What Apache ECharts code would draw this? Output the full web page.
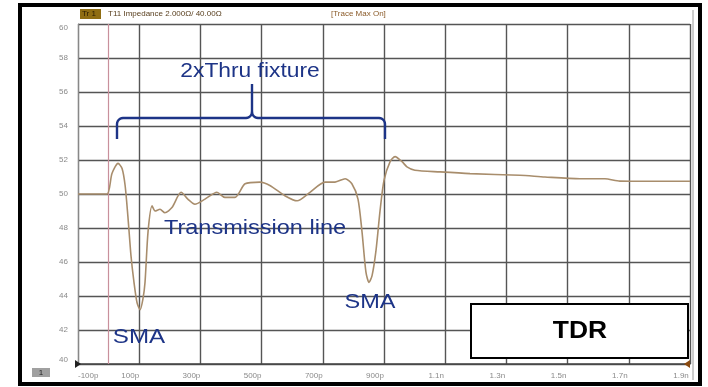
<!DOCTYPE html>
<html>
<head>
<meta charset="utf-8">
<script src="https://cdn.jsdelivr.net/npm/echarts@6/dist/echarts.min.js"></script>
<style>
  html, body { margin: 0; padding: 0; background: #ffffff; }
  #chart { width: 708px; height: 387px; }
</style>
</head>
<body>
<div id="chart"></div>
<script>
// TDR trace: impedance (ohm) versus time (ps)
const timePs = [-100, -50, -5, 11, 31, 44, 54, 63, 73, 83, 93, 103, 112, 119, 129, 142, 152, 168, 184, 207,
  237, 259, 282, 315, 354, 380, 413, 446, 495, 527, 576, 616, 658, 707, 740, 773, 795, 815, 828, 841,
  851, 861, 874, 887, 900, 920, 936, 959, 975, 1001, 1083, 1181, 1344, 1426, 1540, 1622, 1671, 1769, 1900];
const impedance = [50.0, 50.0, 50.0, 51.2, 51.8, 51.5, 50.5, 48.7, 46.4, 44.8, 43.6, 43.2, 43.8, 44.8, 47.8,
  49.3, 49.0, 49.1, 48.9, 49.2, 50.1, 49.7, 49.4, 49.7, 50.1, 49.8, 49.8, 50.6, 50.7, 50.5,
  49.9, 49.6, 50.1, 50.7, 50.7, 50.9, 50.6, 49.7, 47.8, 45.4, 44.8, 45.2, 46.7, 49.0, 50.8,
  51.9, 52.2, 51.9, 51.6, 51.4, 51.3, 51.2, 51.1, 51.0, 50.9, 50.9, 50.76, 50.75, 50.75];

// Display window: starts at -100 ps, 200 ps per division, 10 divisions
const startPs = -100;
const divPs = 200;
const spanPs = 2000;
// Impedance scale: 40 ohm reference, 2 ohm per division
const yMin = 40, yMax = 60, yStep = 2;
const markerPs = 0;

const headerTrace = 'Tr 1';
const headerText = 'T11 Impedance 2.000\u03A9/ 40.00\u03A9';
const headerState = '[Trace Max On]';

function fmtTime(ps) {
  if (Math.abs(ps) < 1000) return ps + 'p';
  return (ps / 1000).toFixed(1) + 'n';
}

// axis runs from 0..span; offset back to real time for labels
const seriesData = timePs.map((t, i) => [t - startPs, impedance[i]]);

// quarter-circle corner points for the bracket outline
function corner(cx, cy, r, a0, a1) {
  const pts = [];
  for (let k = 0; k <= 6; k++) {
    const a = a0 + (a1 - a0) * k / 6;
    pts.push([cx + r * Math.cos(a), cy + r * Math.sin(a)]);
  }
  return pts;
}
const R = 6, P = Math.PI;
const bracketLeft = [[117, 139]].concat(corner(123, 124, R, P, 1.5 * P), corner(246, 112, R, 0.5 * P, 0));
const bracketRight = corner(258, 112, R, P, 0.5 * P).concat(corner(379, 124, R, 1.5 * P, 2 * P), [[385, 139]]);

const blue = '#1d3487';
function note(text, x, y, size, sx) {
  return { type: 'text', x: x, y: y, scaleX: sx, z: 12,
    style: { text: text, fill: blue, fontSize: size, fontFamily: 'Liberation Sans',
      align: 'center', verticalAlign: 'middle' } };
}

const chart = echarts.init(document.getElementById('chart'));
chart.setOption({
  animation: false,
  backgroundColor: '#ffffff',
  grid: { left: 78, top: 24, right: 18, bottom: 23, containLabel: false },
  xAxis: {
    type: 'value', min: 0, max: spanPs, interval: divPs,
    axisLine: { show: true, onZero: false, lineStyle: { color: '#444', width: 1.5 } },
    axisTick: { show: false },
    splitLine: { show: true, lineStyle: { color: '#555', width: 1.4 } },
    axisLabel: {
      color: '#8a8a8a', fontSize: 8, fontFamily: 'Liberation Sans', margin: 8,
      padding: [0, 18, 0, 0], alignMinLabel: 'left',
      formatter: v => fmtTime(v + startPs)
    }
  },
  yAxis: {
    type: 'value', min: yMin, max: yMax, interval: yStep,
    axisLine: { show: true, lineStyle: { color: '#888', width: 1 } },
    axisTick: { show: false },
    splitLine: { show: true, lineStyle: { color: '#555', width: 1.4 } },
    axisLabel: { color: '#8a8a8a', fontSize: 8, fontFamily: 'Liberation Sans', margin: 10,
      verticalAlignMinLabel: 'bottom', verticalAlignMaxLabel: 'top' }
  },
  series: [{
    type: 'line',
    data: seriesData,
    showSymbol: false,
    smooth: 0.25,
    lineStyle: { color: '#a88d6c', width: 1.6 },
    markLine: {
      silent: true, symbol: 'none', label: { show: false },
      lineStyle: { color: '#c9909c', width: 1.2, type: 'solid' },
      data: [{ xAxis: markerPs - startPs }]
    },
    z: 5
  }],
  graphic: [
    // outer instrument frame
    { type: 'rect', shape: { x: 20, y: 5, width: 680, height: 379 },
      style: { fill: 'none', stroke: '#000', lineWidth: 4 }, z: 10 },
    { type: 'line', shape: { x1: 693, y1: 10, x2: 693, y2: 380 },
      style: { stroke: '#9a9a9a', lineWidth: 1 }, z: 10 },
    // header bar
    { type: 'rect', shape: { x: 80, y: 9, width: 21, height: 10 },
      style: { fill: '#8f6d12' }, z: 10 },
    { type: 'text', x: 82, y: 14, style: { text: headerTrace, fill: '#2a1c00', fontSize: 8,
      fontFamily: 'Liberation Sans', verticalAlign: 'middle' }, z: 11 },
    { type: 'text', x: 108, y: 14, style: { text: headerText, fill: '#5a4020', fontSize: 8,
      fontFamily: 'Liberation Sans', verticalAlign: 'middle' }, z: 11 },
    { type: 'text', x: 331, y: 14, style: { text: headerState, fill: '#8a5a28', fontSize: 8,
      fontFamily: 'Liberation Sans', verticalAlign: 'middle' }, z: 11 },
    // channel tag
    { type: 'rect', shape: { x: 32, y: 368, width: 18, height: 9 },
      style: { fill: '#a0a0a0' }, z: 10 },
    { type: 'text', x: 41, y: 373, style: { text: '1', fill: '#222', fontSize: 8,
      fontFamily: 'Liberation Sans', align: 'center', verticalAlign: 'middle' }, z: 11 },
    // start / stop markers
    { type: 'polygon', shape: { points: [[75, 360], [81, 364], [75, 368]] },
      style: { fill: '#222' }, z: 10 },
    { type: 'polygon', shape: { points: [[684, 364], [690, 360], [690, 368]] },
      style: { fill: '#8a4a10' }, z: 10 },
    // fixture bracket
    { type: 'polyline', shape: { points: bracketLeft },
      style: { fill: 'none', stroke: blue, lineWidth: 2.4 }, z: 12 },
    { type: 'polyline', shape: { points: bracketRight },
      style: { fill: 'none', stroke: blue, lineWidth: 2.4 }, z: 12 },
    { type: 'line', shape: { x1: 252, y1: 84, x2: 252, y2: 112 },
      style: { stroke: blue, lineWidth: 2.4 }, z: 12 },
    note('2xThru fixture', 250, 71, 20, 1.14),
    note('Transmission line', 255, 228, 21, 1.12),
    note('SMA', 139, 337, 21, 1.15),
    note('SMA', 370, 302, 21, 1.12),
    // TDR caption box
    { type: 'rect', shape: { x: 471, y: 304, width: 217, height: 54 },
      style: { fill: '#ffffff', stroke: '#000', lineWidth: 2 }, z: 12 },
    { type: 'text', x: 580, y: 331, scaleX: 1.1, z: 13,
      style: { text: 'TDR', fill: '#000', fontSize: 24, fontWeight: 'bold',
      fontFamily: 'Liberation Sans', align: 'center', verticalAlign: 'middle' } }
  ]
});
</script>
</body>
</html>
